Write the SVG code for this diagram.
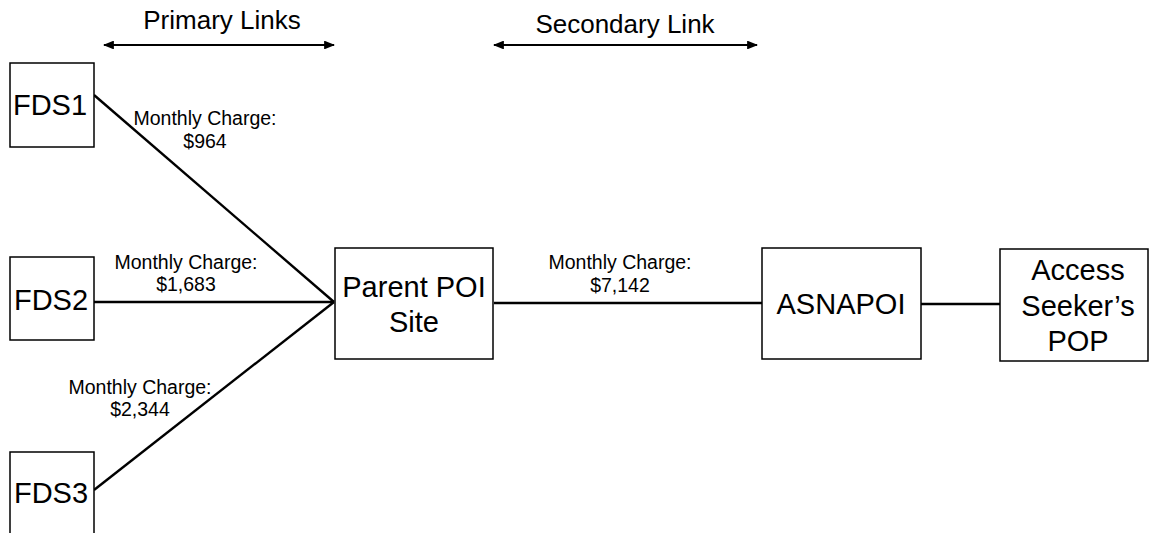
<svg xmlns="http://www.w3.org/2000/svg" width="1149" height="533" viewBox="0 0 1149 533">
  <style>
    .box { fill: #ffffff; stroke: #000000; stroke-width: 1.5; }
    .link { stroke: #000000; stroke-width: 2.4; fill: none; }
    .span { stroke: #000000; stroke-width: 2.2; fill: none; marker-start: url(#head); marker-end: url(#head); }
    text { font-family: "Liberation Sans", Arial, sans-serif; fill: #000000; text-anchor: middle; }
    .node { font-size: 29px; }
    .title { font-size: 26px; }
    .charge { font-size: 19.5px; }
  </style>
  <defs>
    <marker id="head" viewBox="0 0 10 8" refX="9" refY="4" markerWidth="5" markerHeight="4" orient="auto-start-reverse" markerUnits="strokeWidth">
      <path d="M0,0 L10,4 L0,8 Z" fill="#000000"/>
    </marker>
  </defs>

  <rect width="1149" height="533" fill="#ffffff"/>

  <!-- span indicators -->
  <g id="spans">
    <text class="title" x="222" y="29">Primary Links</text>
    <line class="span" x1="104" y1="45" x2="334" y2="45"/>
    <text class="title" x="625" y="33">Secondary Link</text>
    <line class="span" x1="494" y1="45" x2="757" y2="45"/>
  </g>

  <!-- connectors -->
  <g id="connectors">
    <line class="link" x1="94" y1="95" x2="334" y2="302"/>
    <line class="link" x1="94" y1="302" x2="334" y2="302"/>
    <line class="link" x1="94" y1="490" x2="334" y2="302"/>
    <line class="link" x1="494" y1="303" x2="762" y2="303"/>
    <line class="link" x1="921" y1="304" x2="1000" y2="304"/>
  </g>

  <!-- link charges -->
  <g id="charges">
    <text class="charge" x="205" y="125">Monthly Charge:</text>
    <text class="charge" x="205" y="148">$964</text>
    <text class="charge" x="186" y="269">Monthly Charge:</text>
    <text class="charge" x="186" y="291">$1,683</text>
    <text class="charge" x="140" y="394">Monthly Charge:</text>
    <text class="charge" x="140" y="416">$2,344</text>
    <text class="charge" x="620" y="269">Monthly Charge:</text>
    <text class="charge" x="620" y="292">$7,142</text>
  </g>

  <g id="fds1">
    <rect class="box" x="10" y="63" width="84" height="84"/>
    <text class="node" x="50" y="115">FDS1</text>
  </g>
  <g id="fds2">
    <rect class="box" x="10" y="257" width="84" height="83"/>
    <text class="node" x="51" y="310">FDS2</text>
  </g>
  <g id="fds3">
    <rect class="box" x="10" y="452" width="84" height="100"/>
    <text class="node" x="51" y="503">FDS3</text>
  </g>
  <g id="parent-poi">
    <rect class="box" x="335" y="248" width="158" height="111"/>
    <text class="node" x="414" y="297">Parent POI</text>
    <text class="node" x="414" y="332">Site</text>
  </g>
  <g id="asnapoi">
    <rect class="box" x="762" y="248" width="159" height="111"/>
    <text class="node" x="841" y="314">ASNAPOI</text>
  </g>
  <g id="access-seeker-pop">
    <rect class="box" x="1000" y="249" width="148" height="112"/>
    <text class="node" x="1078" y="280">Access</text>
    <text class="node" x="1078" y="316">Seeker’s</text>
    <text class="node" x="1078" y="351">POP</text>
  </g>
</svg>
